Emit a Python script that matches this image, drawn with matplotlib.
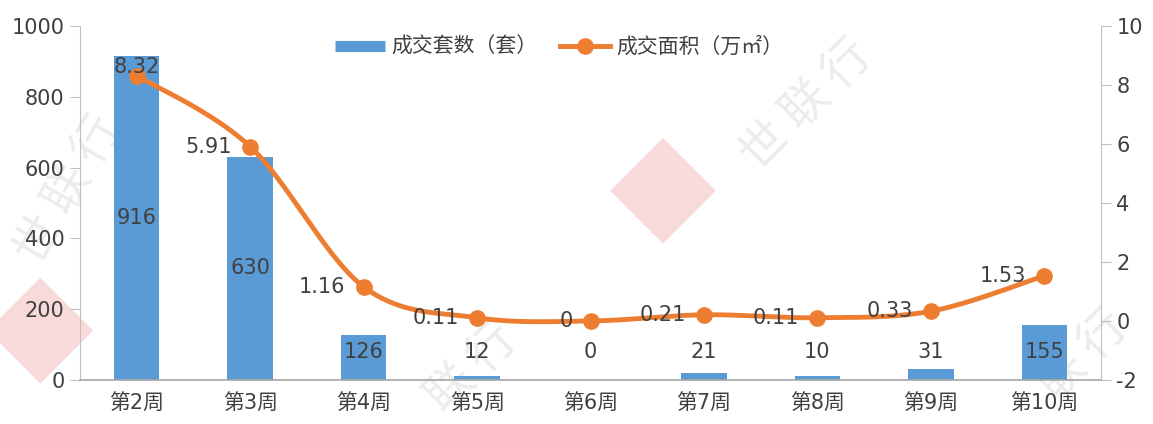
import matplotlib
matplotlib.use("Agg")
import matplotlib.pyplot as plt
import numpy as np
from matplotlib.patches import Polygon
from matplotlib.lines import Line2D

plt.rcParams['font.family'] = ['DejaVu Sans', 'Noto Sans CJK SC']
plt.rcParams['axes.unicode_minus'] = False

weeks = ["第2周", "第3周", "第4周", "第5周", "第6周", "第7周", "第8周", "第9周", "第10周"]
units = [916, 630, 126, 12, 0, 21, 10, 31, 155]
area = [8.32, 5.91, 1.16, 0.11, 0, 0.21, 0.11, 0.33, 1.53]

blue = "#5b9bd5"
orange = "#ed7d31"
txt = "#404040"
axis_c = "#bfbfbf"
wm = "#ececec"

fig = plt.figure(figsize=(11.53, 4.24), dpi=100)

# watermarks (faint)
for (cx, cy) in [(0.035, 0.22), (0.575, 0.55)]:
    d = 0.045
    fig.patches.append(Polygon([(cx - d, cy), (cx, cy + d * 2.72), (cx + d, cy), (cx, cy - d * 2.72)],
                               closed=True, transform=fig.transFigure, color="#f8dada",
                               zorder=0))
fig.text(0.70, 0.75, "世 联 行", rotation=45, fontsize=34, color=wm, ha="center", va="center",
         family="Noto Sans CJK SC", zorder=0)
fig.text(0.06, 0.55, "世 联 行", rotation=60, fontsize=34, color=wm, ha="center", va="center",
         family="Noto Sans CJK SC", zorder=0)
fig.text(0.41, 0.13, "联 行", rotation=45, fontsize=34, color=wm, ha="center", va="center",
         family="Noto Sans CJK SC", zorder=0)
fig.text(0.94, 0.16, "联 行", rotation=45, fontsize=34, color=wm, ha="center", va="center",
         family="Noto Sans CJK SC", zorder=0)

ax = fig.add_axes([0.0694, 0.1038, 0.8855, 0.8349])
ax.set_zorder(1)
ax.patch.set_alpha(0)
x = np.arange(len(weeks))
ax.bar(x, units, width=0.4, color=blue, zorder=2)
ax.set_xlim(-0.5, len(weeks) - 0.5)
ax.set_ylim(0, 1000)
ax.set_yticks(range(0, 1001, 200))
ax.set_xticks(x)
ax.set_xticklabels(weeks)
ax.tick_params(axis="x", length=0, pad=10, labelsize=15, labelcolor=txt)
ax.tick_params(axis="y", length=7, color=axis_c, labelsize=15, labelcolor=txt, pad=4)
for s in ["top", "right"]:
    ax.spines[s].set_visible(False)
ax.spines["left"].set_color(axis_c)
ax.spines["bottom"].set_color("#a6a6a6")
ax.spines["bottom"].set_linewidth(1.2)

for xi, v in zip(x, units):
    ax.text(xi, max(v / 2, 80), str(v), ha="center", va="center", fontsize=15, color=txt, zorder=3)

ax2 = ax.twinx()
ax2.set_zorder(2)
ax2.set_ylim(-2, 10)
ax2.set_yticks(range(-2, 11, 2))
ax2.tick_params(axis="y", length=7, color=axis_c, labelsize=15, labelcolor=txt, pad=4)
for s in ["top", "left", "bottom"]:
    ax2.spines[s].set_visible(False)
ax2.spines["right"].set_color(axis_c)

# smoothed line (Bezier / Catmull-Rom in display space, like Excel)
fig.canvas.draw()
pts = ax2.transData.transform(np.column_stack([x, area]))
P = np.vstack([pts[0], pts, pts[-1]])
curve = []
for i in range(1, len(P) - 2):
    p0, p1, p2, p3 = P[i - 1], P[i], P[i + 1], P[i + 2]
    c1 = p1 + (p2 - p0) / 6
    c2 = p2 - (p3 - p1) / 6
    t = np.linspace(0, 1, 40)[:, None]
    seg = (1 - t) ** 3 * p1 + 3 * (1 - t) ** 2 * t * c1 + 3 * (1 - t) * t ** 2 * c2 + t ** 3 * p2
    curve.append(seg)
curve = ax2.transData.inverted().transform(np.vstack(curve))
ax2.plot(curve[:, 0], curve[:, 1], color=orange, lw=3.5, zorder=3, solid_capstyle="round")
ax2.plot(x, area, "o", color=orange, ms=11, zorder=4)

for i, (xi, v) in enumerate(zip(x, area)):
    lab = "0" if v == 0 else f"{v:.2f}"
    if i == 0:
        ax2.annotate(lab, (xi, v), xytext=(0, -1), textcoords="offset points",
                     ha="center", va="bottom", fontsize=15, color=txt, zorder=5)
    else:
        ax2.annotate(lab, (xi, v), xytext=(-13, 0), textcoords="offset points",
                     ha="right", va="center", fontsize=15, color=txt, zorder=5)

handles = [Line2D([0], [0], color=blue, lw=8, solid_capstyle="butt"),
           Line2D([0], [0], color=orange, lw=3.5, marker="o", ms=11)]
leg = ax2.legend(handles, ["成交套数（套）", "成交面积（万㎡）"], loc="upper center",
                 bbox_to_anchor=(0.469, 1.025), ncol=2, frameon=False, fontsize=15,
                 handlelength=2.4, columnspacing=1.1, handletextpad=0.3)
for t in leg.get_texts():
    t.set_color(txt)
    t.set_family("Noto Sans CJK SC")

fig.savefig("out.png", dpi=100)
